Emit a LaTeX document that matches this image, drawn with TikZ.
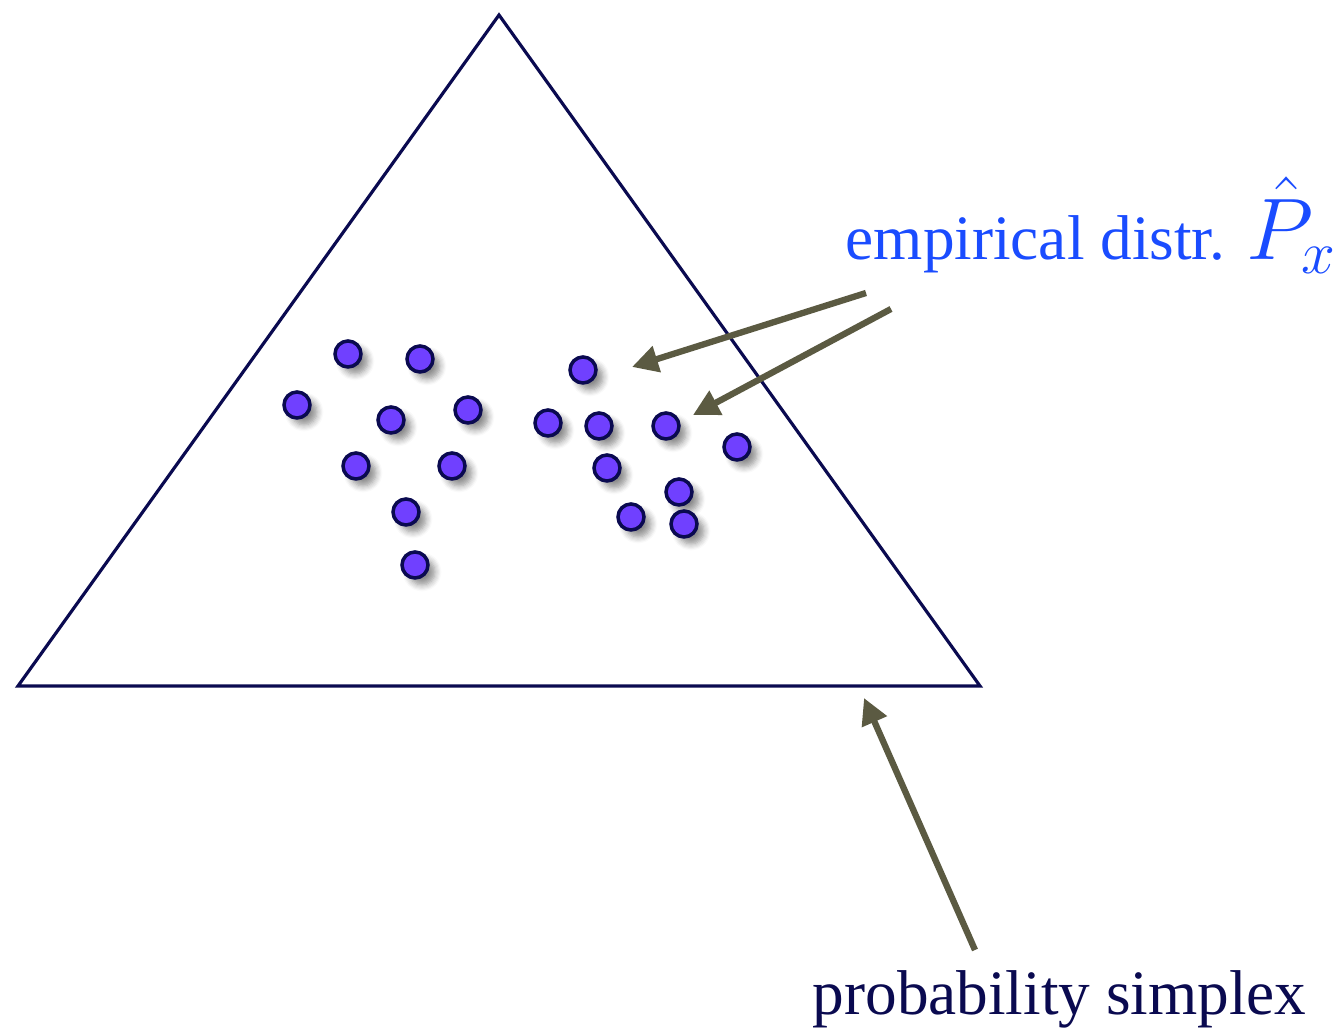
\documentclass[tikz,border=0pt]{standalone}
\usepackage{amsmath,amssymb}
\usepackage{fontspec}
\setmainfont{Liberation Serif}
\usepackage{xcolor}
\usepackage{tikz}
\usetikzlibrary{arrows.meta,shadows.blur}
\definecolor{navy}{HTML}{0A0A50}
\definecolor{bluetxt}{HTML}{1A4CFF}
\definecolor{dotfill}{HTML}{7040FF}
\definecolor{olive}{HTML}{5B5A42}

\begin{document}
\begin{tikzpicture}[
    dot/.style={circle,draw=navy,line width=1pt,fill=dotfill,minimum size=0.26cm,inner sep=0pt,
      blur shadow={shadow xshift=0.7mm,shadow yshift=-0.7mm,shadow blur steps=6,shadow opacity=45}},
    pointer/.style={-{Triangle[length=0.26cm,width=0.26cm]},olive,line width=1.8pt},
    every node/.style={font=\fontsize{18}{20}\selectfont}]
  \useasboundingbox (0,0) rectangle (13.42,-10.29);

  % the simplex
  \coordinate (top) at (4.99,-0.15);
  \coordinate (bl) at (0.18,-6.86);
  \coordinate (br) at (9.80,-6.86);
  \draw[navy,line width=0.9pt,line join=miter] (top) -- (bl) -- (br) -- cycle;

  % sample points
  \foreach \x/\y [count=\i] in {3.48/3.54, 4.20/3.59, 2.97/4.05, 3.91/4.20, 4.68/4.10,
      3.56/4.66, 4.52/4.66, 4.06/5.12, 4.15/5.65, 5.83/3.70, 5.48/4.23, 5.99/4.26,
      6.66/4.26, 7.37/4.47, 6.07/4.68, 6.79/4.92, 6.31/5.17, 6.84/5.24}
    \node[dot] (d\i) at (\x,-\y) {};

  % labels
  \node[anchor=base west,text=bluetxt,inner sep=0pt] (emp) at (8.45,-2.60)
    {empirical distr. {\fontsize{24}{26}\selectfont$\hat{P}_x$}};
  \node[anchor=base west,text=navy,inner sep=0pt] (simp) at (8.12,-10.15)
    {probability simplex};

  % arrows
  \coordinate (e1) at (8.66,-2.93);
  \coordinate (t1) at (6.32,-3.67);
  \coordinate (e2) at (8.91,-3.09);
  \coordinate (t2) at (6.93,-4.15);
  \coordinate (s1) at (9.75,-9.50);
  \coordinate (t3) at (8.64,-6.98);
  \draw[pointer] (e1) -- (t1);
  \draw[pointer] (e2) -- (t2);
  \draw[pointer] (s1) -- (t3);
\end{tikzpicture}
\end{document}
